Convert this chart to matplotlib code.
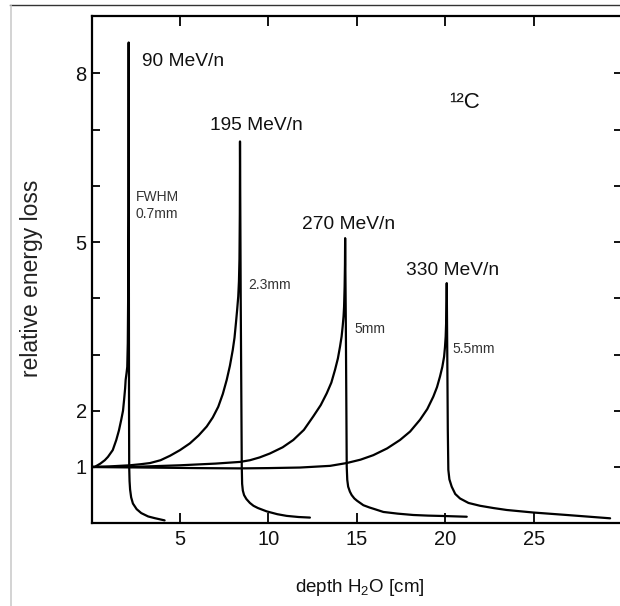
import matplotlib
matplotlib.use("Agg")
import matplotlib.pyplot as plt
from matplotlib.lines import Line2D

# ---------------- data ----------------
depth_90 = [0.0, 0.18, 0.5, 0.75, 0.93, 1.2, 1.40, 1.55, 1.68, 1.78, 1.84, 1.9, 1.93, 1.98, 2.02,
            2.05, 2.07, 2.09, 2.10, 2.11, 2.12, 2.13, 2.15, 2.18, 2.24, 2.34, 2.55, 2.81, 3.2,
            3.57, 4.13]
eloss_90 = [1.0, 1.0, 1.06, 1.12, 1.18, 1.30, 1.48, 1.65, 1.84, 2.0, 2.19, 2.4, 2.55, 2.67, 2.78,
            3.2, 4.0, 5.5, 8.55, 5.0, 2.0, 1.0, 0.75, 0.6, 0.46, 0.35, 0.25, 0.18, 0.12,
            0.09, 0.05]

depth_195 = [0.0, 1.0, 2.17, 2.8, 3.31, 3.9, 4.44, 5.0, 5.56, 6.05, 6.51, 6.85, 7.16, 7.42, 7.64,
             7.82, 7.98, 8.08, 8.16, 8.23, 8.29, 8.33, 8.36, 8.38, 8.39, 8.43, 8.47, 8.49, 8.51,
             8.55, 8.62, 8.75, 8.95, 9.15, 9.4, 9.9, 10.5, 11.03, 11.7, 12.34]
eloss_195 = [1.0, 1.01, 1.03, 1.05, 1.07, 1.12, 1.20, 1.30, 1.42, 1.56, 1.72, 1.88, 2.07, 2.3, 2.55,
             2.8, 3.08, 3.3, 3.56, 3.8, 4.03, 4.3, 4.7, 5.5, 6.79, 4.0, 2.0, 1.0, 0.7,
             0.58, 0.5, 0.43, 0.36, 0.31, 0.27, 0.21, 0.16, 0.13, 0.11, 0.10]

depth_270 = [0.0, 2.2, 5.0, 7.0, 8.39, 8.95, 9.5, 10.08, 10.8, 11.4, 12.0, 12.53, 12.95, 13.29,
             13.55, 13.76, 13.92, 14.04, 14.13, 14.19, 14.24, 14.27, 14.3, 14.32, 14.33,
             14.37, 14.42, 14.45, 14.5, 14.6, 14.7, 14.85, 15.0, 15.36, 15.7, 16.0, 16.49,
             17.3, 18.18, 19.0, 19.88, 21.2]
eloss_270 = [1.0, 1.0, 1.03, 1.06, 1.09, 1.12, 1.17, 1.24, 1.35, 1.48, 1.66, 1.9, 2.1, 2.31,
             2.5, 2.73, 2.93, 3.14, 3.32, 3.5, 3.68, 3.85, 4.2, 4.6, 5.07,
             3.5, 1.0, 0.77, 0.65, 0.56, 0.50, 0.44, 0.40, 0.32, 0.28, 0.25, 0.20,
             0.17, 0.146, 0.135, 0.128, 0.115]

depth_330 = [0.0, 3.0, 6.0, 8.4, 10.0, 11.78, 13.48, 14.42, 15.2, 15.92, 16.7, 17.43, 18.0, 18.56,
             18.97, 19.31, 19.52, 19.69, 19.82, 19.92, 19.97, 20.01, 20.04, 20.06, 20.07,
             20.1, 20.13, 20.16, 20.22, 20.35, 20.55, 20.82, 21.3, 21.95, 22.7, 23.46,
             24.96, 26.85, 29.3]
eloss_330 = [1.0, 0.99, 0.98, 0.975, 0.98, 0.99, 1.02, 1.07, 1.13, 1.21, 1.33, 1.48, 1.63, 1.84,
             2.03, 2.25, 2.42, 2.61, 2.78, 2.96, 3.13, 3.32, 3.6, 3.95, 4.27,
             3.0, 1.66, 0.95, 0.78, 0.65, 0.52, 0.44, 0.36, 0.31, 0.27, 0.235,
             0.19, 0.146, 0.087]

energy_labels = ["90 MeV/n", "195 MeV/n", "270 MeV/n", "330 MeV/n"]
energy_label_xy = [(2.87, 8.21), (6.67, 7.07), (11.92, 5.32), (17.77, 4.49)]
fwhm_labels = ["FWHM\n0.7mm", "2.3mm", "5mm", "5.5mm"]
fwhm_label_xy = [(2.49, 5.65), (8.86, 4.24), (14.87, 3.45), (20.41, 3.10)]

x_ticks = [5, 10, 15, 20, 25]
y_major = [1, 2, 5, 8]
y_minor = [3, 4, 6, 7]

# ---------------- fonts ----------------
plt.rcParams["font.family"] = ["Liberation Sans", "DejaVu Sans"]
plt.rcParams["mathtext.fontset"] = "custom"
plt.rcParams["mathtext.rm"] = "Liberation Sans"
plt.rcParams["mathtext.it"] = "Liberation Sans"

TXT = "#111111"

fig = plt.figure(figsize=(6.2, 6.06), dpi=100)
fig.patch.set_facecolor("white")
W, H = 620.0, 606.0
ax = fig.add_axes([91.5 / W, (H - 523.2) / H, 531.0 / W, 507.7 / H])

for xs, ys in [(depth_90, eloss_90), (depth_195, eloss_195),
               (depth_270, eloss_270), (depth_330, eloss_330)]:
    ax.plot(xs, ys, color="black", lw=1.6, solid_joinstyle="round", solid_capstyle="round")

ax.set_xlim(0, 30)
ax.set_ylim(0, 9.03)

ax.set_xticks(x_ticks)
ax.set_yticks(y_major)
ax.set_yticks(y_minor, minor=True)
ax.tick_params(axis="x", which="both", direction="in", length=7.5, width=1.3,
               top=True, bottom=True, labelsize=14.5, pad=5, colors="black", labelcolor=TXT)
ax.tick_params(axis="y", which="both", direction="in", length=5.5, width=1.3,
               left=True, right=True, labelsize=14.5, pad=3.5, colors="black", labelcolor=TXT)
for sp in ax.spines.values():
    sp.set_linewidth(1.6)
    sp.set_color("black")

ax.set_xlabel("depth H$_2$O [cm]", fontsize=13.5, color=TXT, va="center", ha="center")
ax.xaxis.set_label_coords(0.5056, -0.127)
ax.set_ylabel("relative energy loss", fontsize=16.5, color="#222222",
              va="center", ha="center")
ax.yaxis.set_label_coords(-0.1128, 0.483)

for lab, (x, y) in zip(energy_labels, energy_label_xy):
    ax.text(x, y, lab, fontsize=13.8, color=TXT, ha="left", va="center")
for lab, (x, y) in zip(fwhm_labels, fwhm_label_xy):
    ax.text(x, y, lab, fontsize=10, color="#333333", ha="left", va="center", linespacing=1.2)

ax.text(20.19, 7.39, "\u00b9\u00b2C", fontsize=16, color=TXT, ha="left", va="baseline")

# scan frame lines around the picture
fig.add_artist(Line2D([10 / W, 1.0], [1 - 5.3 / H, 1 - 5.3 / H], transform=fig.transFigure,
                      color="#333333", lw=1.0))
fig.add_artist(Line2D([11 / W, 11 / W], [0.0, 1 - 6 / H], transform=fig.transFigure,
                      color="#cccccc", lw=1.2))

fig.savefig("out.png", dpi=100, facecolor="white")
